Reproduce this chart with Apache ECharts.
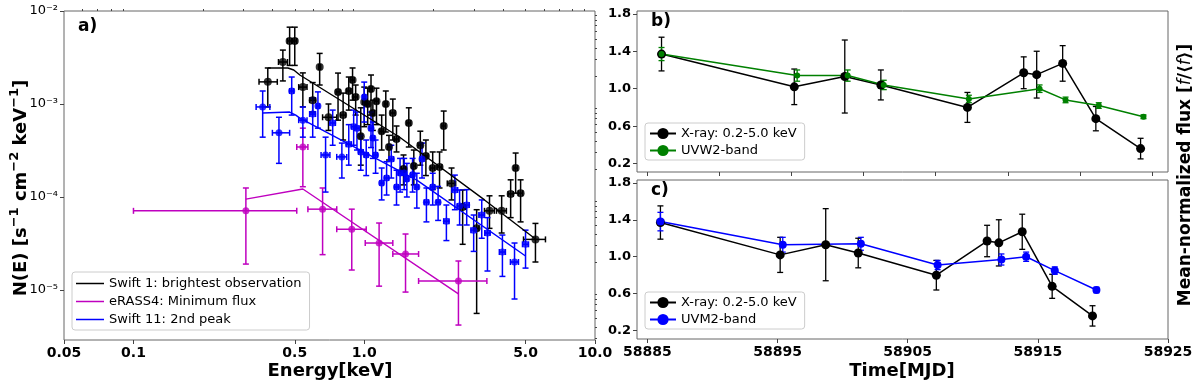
<!DOCTYPE html>
<html>
<head>
<meta charset="utf-8">
<script src="https://cdn.jsdelivr.net/npm/echarts@6.0.0/dist/echarts.min.js"></script>
<style>
html, body { margin: 0; padding: 0; background: #fff; }
#main { width: 1200px; height: 387px; }
</style>
</head>
<body>
<div id="main"></div>
<script>
// ---- panel a) spectra ----
var swift1E    = [0.382,0.444,0.475,0.500,0.542,0.598,0.641,0.700,0.770,0.810,0.857,0.890,0.918,0.966,1.000,1.035,1.070,1.090,1.130,1.190,1.240,1.280,1.330,1.380,1.480,1.560,1.640,1.750,1.850,1.980,2.120,2.210,2.390,2.670,3.070,3.490,3.940,4.310,4.530,4.760,5.520];
var swift1N    = [1.73e-3,2.83e-3,4.76e-3,4.76e-3,1.52e-3,1.10e-3,2.50e-3,7.2e-4,1.35e-3,7.6e-4,1.38e-3,1.81e-3,1.19e-3,4.5e-4,1.05e-3,1.00e-3,1.45e-3,8.0e-4,1.07e-3,5.1e-4,1.00e-3,3.45e-4,8.0e-4,4.2e-4,2.0e-4,6.25e-4,2.15e-4,3.6e-4,2.76e-4,2.05e-4,2.1e-4,5.8e-4,1.4e-4,7.8e-5,4.6e-5,7.1e-5,7.1e-5,1.08e-4,2.05e-4,1.1e-4,3.5e-5];
var swift1NLo  = [9.3e-4,1.77e-3,2.6e-3,2.6e-3,9.3e-4,8.2e-4,1.6e-3,5.2e-4,6.7e-4,4.1e-4,8.6e-4,1.1e-3,7.6e-4,2.2e-4,5.7e-4,6.0e-4,7.6e-4,5.2e-4,6.0e-4,3.2e-4,5.0e-4,2.5e-4,4.1e-4,3.05e-4,1.35e-4,3.45e-4,1.35e-4,2.2e-4,1.7e-4,1.2e-4,1.25e-4,3.2e-4,9.3e-5,3.1e-5,5.6e-6,4.6e-5,4.1e-5,6.0e-5,1.1e-4,5.4e-5,2.0e-5];
var swift1NHi  = [2.44e-3,3.8e-3,6.7e-3,6.7e-3,2.16e-3,1.7e-3,3.5e-3,1.0e-3,2.15e-3,1.31e-3,1.95e-3,2.44e-3,1.6e-3,9.1e-4,1.52e-3,1.48e-3,2.05e-3,1.1e-3,1.48e-3,7.6e-4,1.38e-3,4.6e-4,1.13e-3,5.8e-4,2.83e-4,9.1e-4,3.2e-4,5.1e-4,4.1e-4,3.05e-4,3.05e-4,8.4e-4,2.05e-4,1.19e-4,7.3e-5,1.03e-4,1.03e-4,1.53e-4,2.97e-4,1.53e-4,5.2e-5];
var swift1ELo  = [0.35,0.425,0.465,0.49,0.52,0.58,0.635,0.66,0.755,0.79,0.84,0.875,0.90,0.95,0.985,1.02,1.055,1.075,1.11,1.17,1.22,1.26,1.30,1.35,1.45,1.53,1.61,1.71,1.81,1.94,2.07,2.17,2.29,2.60,3.00,3.32,3.74,4.20,4.45,4.66,4.90];
var swift1EHi  = [0.42,0.465,0.485,0.51,0.565,0.615,0.647,0.76,0.785,0.83,0.875,0.905,0.935,0.98,1.015,1.05,1.085,1.105,1.15,1.21,1.26,1.30,1.36,1.41,1.51,1.59,1.67,1.79,1.89,2.02,2.17,2.25,2.49,2.74,3.14,3.66,4.13,4.42,4.61,4.86,6.10];

var erassE     = [0.307,0.542,0.660,0.883,1.160,1.510,2.560];
var erassN     = [7.1e-5,3.45e-4,7.4e-5,4.5e-5,3.2e-5,2.44e-5,1.25e-5];
var erassNLo   = [1.9e-5,1.29e-4,2.4e-5,1.64e-5,1.1e-5,9.5e-6,4.2e-6];
var erassNHi   = [1.25e-4,5.5e-4,1.25e-4,7.4e-5,5.25e-5,4.0e-5,2.05e-5];
var erassELo   = [0.10,0.51,0.57,0.76,1.01,1.33,1.72];
var erassEHi   = [0.51,0.57,0.76,1.02,1.33,1.72,3.40];

var swift11E   = [0.363,0.427,0.485,0.542,0.598,0.630,0.680,0.730,0.800,0.857,0.900,0.930,0.966,1.000,1.020,1.070,1.090,1.120,1.190,1.250,1.310,1.380,1.430,1.490,1.530,1.620,1.690,1.780,1.860,1.980,2.090,2.270,2.470,2.590,2.780,2.980,3.230,3.420,3.970,4.480,5.000];
var swift11N   = [9.3e-4,4.9e-4,1.38e-3,6.7e-4,7.8e-4,9.5e-4,2.83e-4,6.25e-4,2.7e-4,3.7e-4,5.7e-4,5.5e-4,3.05e-4,1.19e-3,2.83e-4,5.5e-4,4.3e-4,2.83e-4,1.41e-4,1.6e-4,2.56e-4,1.28e-4,1.81e-4,1.81e-4,1.56e-4,1.73e-4,1.28e-4,2.56e-4,8.8e-5,1.28e-4,8.8e-5,5.5e-5,1.19e-4,8.0e-5,8.2e-5,4.4e-5,6.4e-5,4.1e-5,2.56e-5,2.0e-5,3.1e-5];
var swift11NLo = [4.4e-4,2.3e-4,7.6e-4,4.4e-4,4.4e-4,5.5e-4,1.13e-4,3.6e-4,1.6e-4,2.2e-4,3.6e-4,3.2e-4,1.94e-4,6.4e-4,1.7e-4,3.4e-4,2.6e-4,1.8e-4,9.3e-5,1.05e-4,1.6e-4,8.2e-5,1.13e-4,1.2e-4,1.0e-4,1.13e-4,7.6e-5,1.6e-4,5.4e-5,8.2e-5,5.6e-5,3.4e-5,7.3e-5,5.0e-5,5.0e-5,2.6e-5,3.6e-5,1.6e-5,1.4e-5,8.0e-6,1.72e-5];
var swift11NHi = [1.38e-3,7.2e-4,1.95e-3,9.3e-4,1.16e-3,1.35e-3,4.4e-4,8.6e-4,3.8e-4,6.0e-4,8.6e-4,8.2e-4,4.6e-4,1.72e-3,4.1e-4,8.2e-4,6.4e-4,4.1e-4,2.05e-4,2.4e-4,3.6e-4,1.94e-4,2.6e-4,2.6e-4,2.3e-4,2.6e-4,1.8e-4,3.8e-4,1.25e-4,1.8e-4,1.3e-4,8.2e-5,1.72e-4,1.19e-4,1.2e-4,6.4e-5,9.3e-5,6.0e-5,3.9e-5,3.2e-5,4.4e-5];
var swift11ELo = [0.34,0.40,0.475,0.52,0.58,0.62,0.65,0.71,0.76,0.835,0.88,0.91,0.945,0.985,1.00,1.05,1.07,1.10,1.17,1.225,1.28,1.355,1.405,1.465,1.505,1.59,1.66,1.745,1.82,1.94,2.05,2.21,2.40,2.53,2.71,2.90,3.14,3.33,3.85,4.30,4.85];
var swift11EHi = [0.39,0.475,0.495,0.565,0.615,0.64,0.71,0.75,0.84,0.88,0.92,0.95,0.99,1.015,1.04,1.09,1.11,1.14,1.21,1.275,1.34,1.405,1.455,1.515,1.555,1.65,1.72,1.815,1.90,2.02,2.13,2.33,2.54,2.65,2.85,3.06,3.32,3.51,4.09,4.66,5.15];

// model curves
var modelSwift1E  = [0.382,0.467,0.495,0.526,1.42,3.32,5.52];
var modelSwift1N  = [2.44e-3,2.44e-3,2.32e-3,2.05e-3,4.42e-4,9.3e-5,3.53e-5];
var modelErassE   = [0.307,0.542,2.56];
var modelErassN   = [9.5e-5,1.22e-4,9.1e-6];
var modelSwift11E = [0.363,0.475,0.505,0.526,1.69,5.0];
var modelSwift11N = [8.0e-4,8.2e-4,7.6e-4,7.06e-4,1.52e-4,2.32e-5];

var energyTicks      = [0.05,0.1,0.5,1,5,10];
var energyTickLabels = ['0.05','0.1','0.5','1.0','5.0','10.0'];
var fluxTicks        = [1e-5,1e-4,1e-3,1e-2];
var fluxTickLabels   = ['10\u207B\u2075','10\u207B\u2074','10\u207B\u00B3','10\u207B\u00B2'];

// ---- panels b) and c) light curves ----
var xrayTime = [58886.0,58895.2,58898.7,58901.2,58907.2,58911.1,58912.0,58913.8,58916.1,58919.2];
var xrayFlux = [1.37,1.02,1.13,1.04,0.80,1.17,1.15,1.27,0.68,0.36];
var xrayErr  = [0.18,0.19,0.39,0.16,0.16,0.17,0.25,0.19,0.13,0.11];
var uvw2Time = [58886.0,58895.4,58898.9,58901.4,58907.3,58912.2,58914.0,58916.3,58919.4];
var uvw2Flux = [1.37,1.14,1.14,1.04,0.89,1.00,0.88,0.82,0.70];
var uvw2Err  = [0.07,0.06,0.06,0.05,0.04,0.04,0.03,0.03,0.02];
var uvm2Time = [58886.0,58895.4,58901.4,58907.3,58912.2,58914.1,58916.3,58919.5];
var uvm2Flux = [1.38,1.13,1.14,0.91,0.97,1.00,0.85,0.64];
var uvm2Err  = [0.10,0.08,0.07,0.05,0.06,0.05,0.04,0.03];

var normTicks = [0.2,0.6,1.0,1.4,1.8];
var timeTicksB = [58885,58890,58895,58900,58905,58910,58915,58920];
var timeTicksC = [58885,58895,58905,58915,58925];

var FONT = 'DejaVu Sans';
var LINE_ICON = 'path://M0,0H28V1.5H0Z';

function minorLogTicks(lo, hi) {
    var out = [];
    for (var d = -7; d <= 2; d++) {
        for (var m = 2; m <= 9; m++) {
            var v = m * Math.pow(10, d);
            if (v > lo && v < hi) out.push(v);
        }
    }
    return out;
}

function zip(cols) {
    return cols[0].map(function (_, i) {
        return cols.map(function (c) { return c[i]; });
    });
}

function withErr(t, f, e) {
    return t.map(function (_, i) { return [t[i], f[i], f[i] - e[i], f[i] + e[i]]; });
}

function errBars(color, lw, cap) {
    return function (params, api) {
        var x = api.value(0), y = api.value(1);
        var lo = api.value(2), hi = api.value(3);
        var xlo = api.value(4), xhi = api.value(5);
        var st = { stroke: color, lineWidth: lw };
        var kids = [];
        var a = api.coord([x, hi]), b = api.coord([x, lo]);
        kids.push({ type: 'line', shape: { x1: a[0], y1: a[1], x2: b[0], y2: b[1] }, style: st });
        kids.push({ type: 'line', shape: { x1: a[0] - cap, y1: a[1], x2: a[0] + cap, y2: a[1] }, style: st });
        kids.push({ type: 'line', shape: { x1: b[0] - cap, y1: b[1], x2: b[0] + cap, y2: b[1] }, style: st });
        if (xlo > 0 && xhi > 0) {
            var l = api.coord([xlo, y]), r = api.coord([xhi, y]);
            kids.push({ type: 'line', shape: { x1: l[0], y1: l[1], x2: r[0], y2: r[1] }, style: st });
            kids.push({ type: 'line', shape: { x1: l[0], y1: l[1] - cap, x2: l[0], y2: l[1] + cap }, style: st });
            kids.push({ type: 'line', shape: { x1: r[0], y1: r[1] - cap, x2: r[0], y2: r[1] + cap }, style: st });
        }
        return { type: 'group', children: kids };
    };
}

function errSeries(data, color, xi, yi, lw, cap) {
    return {
        type: 'custom', xAxisIndex: xi, yAxisIndex: yi, data: data,
        renderItem: errBars(color, lw, cap), silent: true, z: 2
    };
}

var EMIN = 0.05, EMAX = 10, NMIN = 2.9e-6, NMAX = 1e-2;
var TMIN_B = 58884.3, TMAX_B = 58921.1, TMIN_C = 58884.2, TMAX_C = 58925;
var FMIN = 0.11, FMAX = 1.83;

var tickLine = { color: '#444', width: 1 };

var myChart = echarts.init(document.getElementById('main'), null, { renderer: 'canvas' });

var option = {
    animation: false,
    backgroundColor: '#fff',
    textStyle: { fontFamily: FONT },
    grid: [
        { left: 64, top: 11, width: 531, height: 329, show: true, borderColor: '#666', borderWidth: 1 },
        { left: 637, top: 11, width: 531, height: 161, show: true, borderColor: '#666', borderWidth: 1 },
        { left: 637, top: 180, width: 531, height: 159, show: true, borderColor: '#666', borderWidth: 1 }
    ],
    xAxis: [
        {
            type: 'log', gridIndex: 0, min: EMIN, max: EMAX,
            axisLine: { show: false }, splitLine: { show: false },
            axisTick: { customValues: energyTicks, length: 4, lineStyle: tickLine },
            axisLabel: {
                customValues: energyTicks, margin: 6,
                fontFamily: FONT, fontSize: 14, fontWeight: 'bold', color: '#000',
                formatter: function (v) {
                    var i = energyTicks.findIndex(function (t) { return Math.abs(t - v) / t < 1e-3; });
                    return i >= 0 ? energyTickLabels[i] : '';
                }
            }
        },
        {
            type: 'log', gridIndex: 0, min: EMIN, max: EMAX,
            axisLine: { show: false }, splitLine: { show: false }, axisLabel: { show: false },
            axisTick: { customValues: minorLogTicks(EMIN, EMAX), length: 2, lineStyle: tickLine }
        },
        {
            type: 'value', gridIndex: 1, min: TMIN_B, max: TMAX_B,
            axisLine: { show: false }, splitLine: { show: false }, axisLabel: { show: false },
            axisTick: { customValues: timeTicksB, length: 4, lineStyle: tickLine }
        },
        {
            type: 'value', gridIndex: 2, min: TMIN_C, max: TMAX_C,
            axisLine: { show: false }, splitLine: { show: false },
            axisTick: { customValues: timeTicksC, length: 4, lineStyle: tickLine },
            axisLabel: {
                customValues: timeTicksC, margin: 6,
                fontFamily: FONT, fontSize: 14, fontWeight: 'bold', color: '#000',
                formatter: function (v) { return String(Math.round(v)); }
            }
        }
    ],
    yAxis: [
        {
            type: 'log', gridIndex: 0, min: NMIN, max: NMAX,
            axisLine: { show: false }, splitLine: { show: false },
            axisTick: { customValues: fluxTicks, length: 4, lineStyle: tickLine },
            axisLabel: {
                customValues: fluxTicks, margin: 6,
                fontFamily: FONT, fontSize: 13, color: '#000',
                formatter: function (v) {
                    var i = fluxTicks.findIndex(function (t) { return Math.abs(Math.log10(t) - Math.log10(v)) < 0.01; });
                    return i >= 0 ? fluxTickLabels[i] : '';
                }
            }
        },
        {
            type: 'log', gridIndex: 0, min: NMIN, max: NMAX,
            axisLine: { show: false }, splitLine: { show: false }, axisLabel: { show: false },
            axisTick: { customValues: minorLogTicks(NMIN, NMAX), length: 2, lineStyle: tickLine }
        },
        {
            type: 'value', gridIndex: 1, min: FMIN, max: FMAX,
            axisLine: { show: false }, splitLine: { show: false },
            axisTick: { customValues: normTicks, length: 4, lineStyle: tickLine },
            axisLabel: {
                customValues: normTicks, margin: 6,
                fontFamily: FONT, fontSize: 13, fontWeight: 'bold', color: '#000',
                formatter: function (v) { return v.toFixed(1); }
            }
        },
        {
            type: 'value', gridIndex: 2, min: FMIN, max: FMAX,
            axisLine: { show: false }, splitLine: { show: false },
            axisTick: { customValues: normTicks, length: 4, lineStyle: tickLine },
            axisLabel: {
                customValues: normTicks, margin: 6,
                fontFamily: FONT, fontSize: 13, fontWeight: 'bold', color: '#000',
                formatter: function (v) { return v.toFixed(1); }
            }
        }
    ],
    legend: [
        {
            left: 72, top: 272, orient: 'vertical',
            data: [
                { name: 'Swift 1: brightest observation', icon: LINE_ICON },
                { name: 'eRASS4: Minimum flux', icon: LINE_ICON },
                { name: 'Swift 11: 2nd peak', icon: LINE_ICON }
            ],
            backgroundColor: 'rgba(255,255,255,0.85)', borderColor: '#ccc', borderWidth: 1, borderRadius: 3,
            padding: [5, 8, 4, 4], itemGap: 5, itemWidth: 28, itemHeight: 14,
            textStyle: { fontFamily: FONT, fontSize: 13, color: '#000' }
        },
        {
            left: 645, top: 123, orient: 'vertical',
            data: ['X-ray: 0.2-5.0 keV', 'UVW2-band'],
            backgroundColor: 'rgba(255,255,255,0.85)', borderColor: '#ccc', borderWidth: 1, borderRadius: 3,
            padding: [4, 8, 3, 4], itemGap: 4, itemWidth: 26, itemHeight: 14,
            textStyle: { fontFamily: FONT, fontSize: 13, color: '#000' }
        },
        {
            left: 645, top: 292, orient: 'vertical',
            data: ['X-ray: 0.2-5.0 keV', 'UVM2-band'],
            backgroundColor: 'rgba(255,255,255,0.85)', borderColor: '#ccc', borderWidth: 1, borderRadius: 3,
            padding: [4, 8, 3, 4], itemGap: 4, itemWidth: 26, itemHeight: 14,
            textStyle: { fontFamily: FONT, fontSize: 13, color: '#000' }
        }
    ],
    graphic: [
        { type: 'text', left: 78, top: 18, style: { text: 'a)', font: 'bold 17px "DejaVu Sans"', fill: '#000' } },
        { type: 'text', left: 651, top: 13, style: { text: 'b)', font: 'bold 17px "DejaVu Sans"', fill: '#000' } },
        { type: 'text', left: 651, top: 182, style: { text: 'c)', font: 'bold 17px "DejaVu Sans"', fill: '#000' } },
        {
            type: 'text', x: 19, y: 188, rotation: Math.PI / 2,
            style: {
                text: '{n|N(E) [s}{s|\u22121}{n| cm}{s|\u22122}{n| keV}{s|\u22121}{n|]}',
                align: 'center', verticalAlign: 'middle',
                rich: {
                    n: { font: 'bold 18px "DejaVu Sans"', fill: '#000', lineHeight: 22, verticalAlign: 'bottom' },
                    s: { font: 'bold 13px "DejaVu Sans"', fill: '#000', lineHeight: 22, verticalAlign: 'top' }
                }
            }
        },
        {
            type: 'text', x: 330, y: 371,
            style: { text: 'Energy[keV]', font: 'bold 18px "DejaVu Sans"', fill: '#000', align: 'center', verticalAlign: 'middle' }
        },
        {
            type: 'text', x: 902, y: 371,
            style: { text: 'Time[MJD]', font: 'bold 18px "DejaVu Sans"', fill: '#000', align: 'center', verticalAlign: 'middle' }
        },
        {
            type: 'text', x: 1186, y: 175, rotation: Math.PI / 2,
            style: {
                text: '{b|Mean-normalized flux [}{i|f}{b|/\u27E8}{i|f}{b|\u27E9]}',
                align: 'center', verticalAlign: 'middle',
                rich: {
                    b: { font: 'bold 17px "DejaVu Sans"', fill: '#000' },
                    i: { font: 'italic 17px "DejaVu Sans"', fill: '#000' }
                }
            }
        }
    ],
    series: [
        // panel a
        errSeries(zip([swift1E, swift1N, swift1NLo, swift1NHi, swift1ELo, swift1EHi]), '#000', 0, 0, 1.5, 3),
        {
            type: 'scatter', name: 'swift1pts', xAxisIndex: 0, yAxisIndex: 0, z: 3,
            data: zip([swift1E, swift1N]), symbol: 'circle', symbolSize: 8,
            itemStyle: { color: '#000' }, silent: true
        },
        {
            type: 'line', name: 'Swift 1: brightest observation', xAxisIndex: 0, yAxisIndex: 0, z: 3,
            data: zip([modelSwift1E, modelSwift1N]), symbol: 'none',
            lineStyle: { color: '#000', width: 1.4 }, itemStyle: { color: '#000' }
        },
        errSeries(zip([erassE, erassN, erassNLo, erassNHi, erassELo, erassEHi]), '#bf00bf', 0, 0, 1.5, 3),
        {
            type: 'scatter', name: 'erasspts', xAxisIndex: 0, yAxisIndex: 0, z: 3,
            data: zip([erassE, erassN]), symbol: 'circle', symbolSize: 7,
            itemStyle: { color: '#bf00bf' }, silent: true
        },
        {
            type: 'line', name: 'eRASS4: Minimum flux', xAxisIndex: 0, yAxisIndex: 0, z: 3,
            data: zip([modelErassE, modelErassN]), symbol: 'none',
            lineStyle: { color: '#bf00bf', width: 1.4 }, itemStyle: { color: '#bf00bf' }
        },
        errSeries(zip([swift11E, swift11N, swift11NLo, swift11NHi, swift11ELo, swift11EHi]), '#0000ff', 0, 0, 1.5, 3),
        {
            type: 'scatter', name: 'swift11pts', xAxisIndex: 0, yAxisIndex: 0, z: 3,
            data: zip([swift11E, swift11N]), symbol: 'circle', symbolSize: 7,
            itemStyle: { color: '#0000ff' }, silent: true
        },
        {
            type: 'line', name: 'Swift 11: 2nd peak', xAxisIndex: 0, yAxisIndex: 0, z: 3,
            data: zip([modelSwift11E, modelSwift11N]), symbol: 'none',
            lineStyle: { color: '#0000ff', width: 1.4 }, itemStyle: { color: '#0000ff' }
        },
        // panel b
        errSeries(withErr(xrayTime, xrayFlux, xrayErr), '#000', 2, 2, 1.3, 3),
        {
            type: 'line', name: 'X-ray: 0.2-5.0 keV', xAxisIndex: 2, yAxisIndex: 2, z: 3,
            data: zip([xrayTime, xrayFlux]), symbol: 'circle', symbolSize: 9,
            lineStyle: { color: '#000', width: 1.5 }, itemStyle: { color: '#000' }
        },
        errSeries(withErr(uvw2Time, uvw2Flux, uvw2Err), '#008000', 2, 2, 1.3, 3),
        {
            type: 'line', name: 'UVW2-band', xAxisIndex: 2, yAxisIndex: 2, z: 3,
            data: zip([uvw2Time, uvw2Flux]), symbol: 'circle', symbolSize: 6,
            lineStyle: { color: '#008000', width: 1.5 }, itemStyle: { color: '#008000' }
        },
        // panel c
        errSeries(withErr(xrayTime, xrayFlux, xrayErr), '#000', 3, 3, 1.3, 3),
        {
            type: 'line', name: 'X-ray: 0.2-5.0 keV', xAxisIndex: 3, yAxisIndex: 3, z: 3,
            data: zip([xrayTime, xrayFlux]), symbol: 'circle', symbolSize: 9,
            lineStyle: { color: '#000', width: 1.5 }, itemStyle: { color: '#000' }
        },
        errSeries(withErr(uvm2Time, uvm2Flux, uvm2Err), '#0000ff', 3, 3, 1.3, 3),
        {
            type: 'line', name: 'UVM2-band', xAxisIndex: 3, yAxisIndex: 3, z: 3,
            data: zip([uvm2Time, uvm2Flux]), symbol: 'circle', symbolSize: 8,
            lineStyle: { color: '#0000ff', width: 1.5 }, itemStyle: { color: '#0000ff' }
        }
    ]
};

myChart.setOption(option);
</script>
</body>
</html>
